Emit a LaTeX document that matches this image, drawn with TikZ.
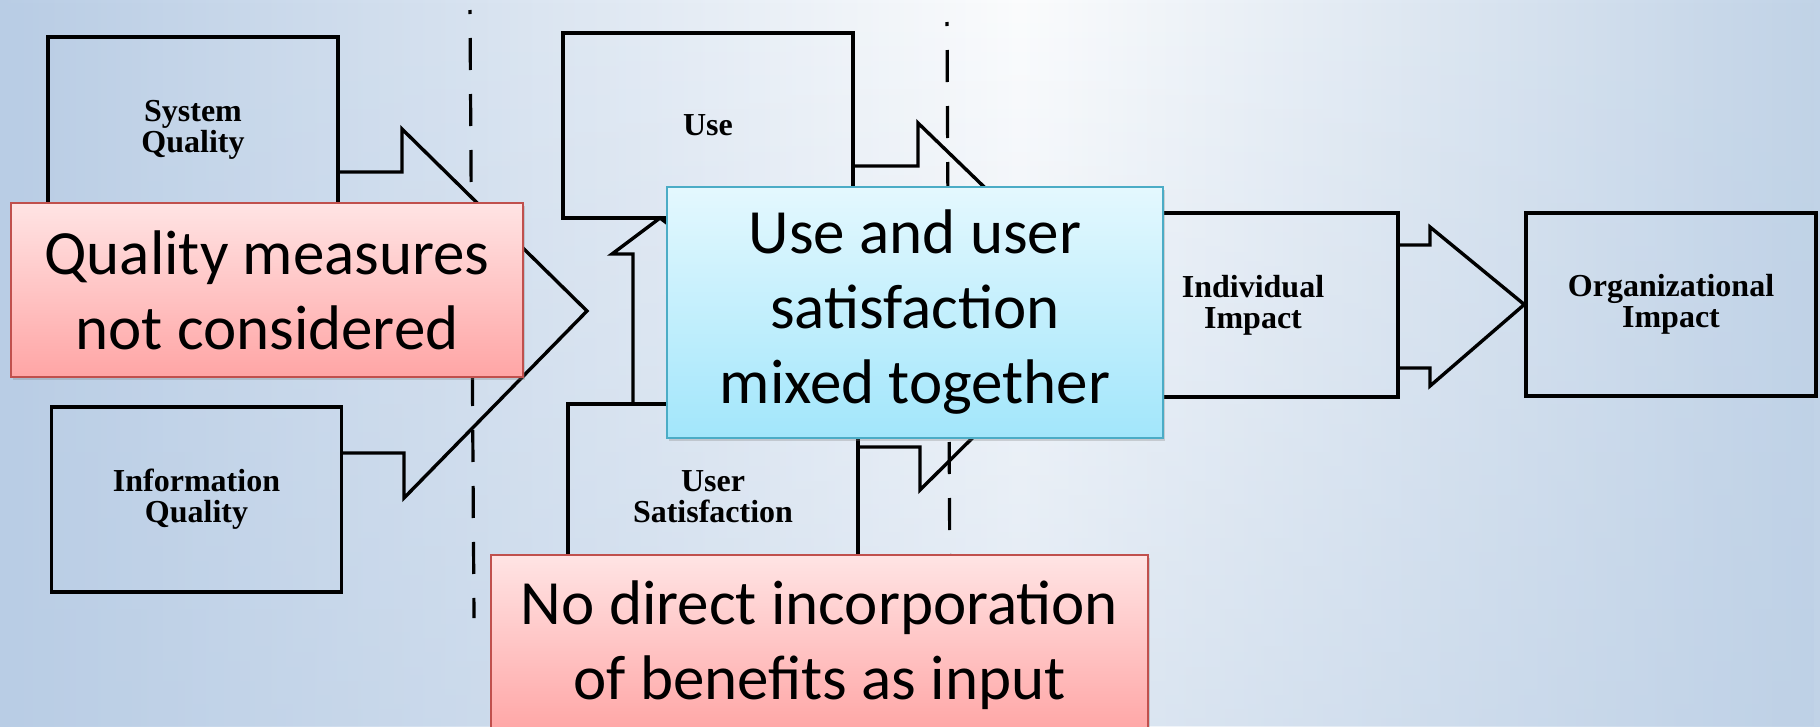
\documentclass[tikz,border=0pt]{standalone}
\usepackage{fontspec}
\setmainfont{Liberation Serif}
\newfontfamily\notefont{Carlito}
\usepackage{tikz}
\usetikzlibrary{shadows,fadings}
\definecolor{slideleft}{HTML}{B9CDE5}
\definecolor{slidemid}{HTML}{FBFCFD}
\definecolor{slideright}{HTML}{C1D3E7}
\definecolor{warnline}{HTML}{C0504D}
\definecolor{warntop}{HTML}{FFE4E4}
\definecolor{warnbottom}{HTML}{FFA5A5}
\definecolor{mixline}{HTML}{4BACC6}
\definecolor{mixtop}{HTML}{E4F8FE}
\definecolor{mixbottom}{HTML}{A2E6FB}
\pgfdeclarehorizontalshading{slidebg}{100bp}{color(0bp)=(slideleft); color(25bp)=(slideleft);
  color(53bp)=(slidemid); color(75bp)=(slideright); color(100bp)=(slideright)}

\begin{document}
\begin{tikzpicture}[
  x=1pt, y=-1pt,
  dmbox/.style={draw, line width=3.4pt, minimum width=290pt, minimum height=185pt,
    align=center, font=\bfseries\fontsize{32}{31}\selectfont},
  fat/.style={line width=3.4pt, line join=miter},
  divider/.style={line width=3.2pt, dash pattern=on 32pt off 24pt, dash phase=28pt},
  remark/.style={draw, line width=1.5pt, align=center,
    font=\notefont\fontsize{63}{75}\selectfont,
    drop shadow={opacity=.3, shadow xshift=2pt, shadow yshift=-3pt}},
  warn/.style={remark, draw=warnline, top color=warntop, bottom color=warnbottom},
  mixnote/.style={remark, draw=mixline, top color=mixtop, bottom color=mixbottom}
]
  \useasboundingbox (0,0) rectangle (1820,726);
  \fill[shading=slidebg] (0,0) rectangle (1820,726);
  \fill[slideleft, opacity=.4, path fading=north] (0,0) rectangle (1820,726);

  % the D&M boxes
  \node[dmbox] (sysq) at (193,129.5) {System\\Quality};
  \node[dmbox] (infq) at (196.5,499.5) {Information\\Quality};
  \node[dmbox] (use) at (708,125.5) {Use};
  \node[dmbox] (usat) at (713,496.5) {User\\Satisfaction};
  \node[dmbox, minimum height=184pt] (indiv) at (1253,305) {Individual\\Impact};
  \node[dmbox, minimum height=183pt] (org) at (1671,304.5) {Organizational\\Impact};

  \coordinate (qtip) at (587,311);
  \coordinate (stip) at (660,218);

  % block arrows
  \draw[fat] ([yshift=-42.5pt]sysq.east) -- (402,172) -- (402,129) -- (qtip)
    -- (404,498) -- (404,453) -- ([yshift=46.5pt]infq.east);
  \draw[fat] ([xshift=-80pt]usat.north) -- (633,254) -- (612,254) -- (stip)
    -- (708,254) -- (687,254) -- ([xshift=-26pt]usat.north);
  \draw[fat] ([yshift=-40.5pt]use.east) -- (918,166) -- (918,123) -- (indiv.west)
    -- (920,490) -- (920,447) -- ([yshift=49.5pt]usat.east);
  \draw[fat] ([yshift=60pt]indiv.east) -- (1430,245) -- (1430,227) -- (org.west)
    -- (1430,386) -- (1430,368) -- ([yshift=-63pt]indiv.east);

  \draw[divider] (470,10) -- (474,618);
  \draw[divider] (947,22) -- (950,600);

  % remarks on top
  \node[warn, minimum width=512pt, minimum height=174pt] (qnote) at (267,290)
    {Quality measures\\not considered};
  \node[mixnote, minimum width=496pt, minimum height=251pt] (unote) at (915,312.5)
    {Use and user\\satisfaction\\mixed together};
  \node[warn, minimum width=657pt, minimum height=180pt] (bnote) at (819.5,645)
    {No direct incorporation\\of benefits as input};
\end{tikzpicture}
\end{document}
